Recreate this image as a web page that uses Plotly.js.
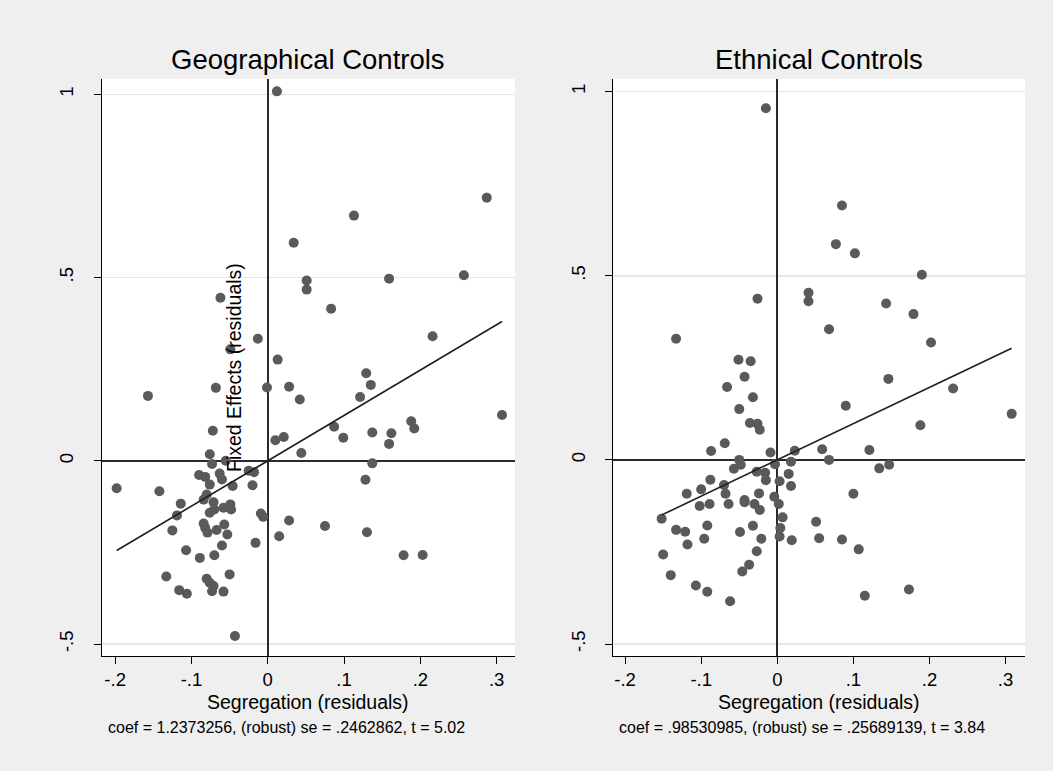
<!DOCTYPE html>
<html>
<head>
<meta charset="utf-8">
<script src="https://cdn.plot.ly/plotly-3.0.1.min.js"></script>
<style>
  html, body { margin: 0; padding: 0; background: #efefef; }
  #chart { width: 1053px; height: 771px; }
</style>
</head>
<body>
<div id="chart"></div>
<script>
// ---------- Data ----------
const panelTitles = ["Geographical Controls", "Ethnical Controls"];
const xTitle = "Segregation (residuals)";
const yTitle = "Fixed Effects (residuals)";
const notes = [
  "coef = 1.2373256, (robust) se = .2462862, t = 5.02",
  "coef = .98530985, (robust) se = .25689139, t = 3.84"
];
const coefGeo = 1.2373256;
const coefEth = 0.98530985;

const xTickVals = [-0.2, -0.1, 0, 0.1, 0.2, 0.3];
const xTickText = ["-.2", "-.1", "0", ".1", ".2", ".3"];
const yTickVals = [-0.5, 0, 0.5, 1];
const yTickText = ["-.5", "0", ".5", "1"];

const geoX = [0.012, 0.287, 0.113, 0.034, 0.051, 0.051, 0.159, 0.257, -0.062, 0.083,
  -0.013, 0.216, -0.049, 0.013, -0.157, -0.068, -0.001, 0.028, 0.042, 0.129,
  0.135, 0.121, 0.307, 0.087, 0.099, 0.137, 0.162, 0.159, 0.188, 0.192,
  -0.072, 0.010, 0.021, 0.044, -0.076, -0.073, -0.055, 0.137, 0.128, -0.090,
  -0.082, -0.063, -0.060, -0.076, -0.046, -0.025, -0.018, -0.020, -0.198, -0.142,
  -0.080, -0.114, -0.084, -0.071, -0.070, -0.076, -0.058, -0.049, -0.048, -0.119,
  -0.009, -0.006, 0.028, -0.125, -0.084, -0.082, -0.079, -0.067, -0.057, -0.053,
  0.015, -0.016, -0.060, -0.107, -0.089, -0.070, -0.133, -0.080, -0.076, -0.071,
  -0.050, -0.116, -0.106, -0.073, -0.058, -0.043, 0.075, 0.130, 0.178, 0.203];
const geoY = [1.008, 0.718, 0.669, 0.595, 0.492, 0.467, 0.497, 0.506, 0.445, 0.415,
  0.333, 0.340, 0.304, 0.276, 0.177, 0.199, 0.200, 0.202, 0.167, 0.239,
  0.207, 0.174, 0.125, 0.093, 0.063, 0.077, 0.075, 0.046, 0.108, 0.088,
  0.082, 0.056, 0.065, 0.021, 0.018, -0.009, 0.000, -0.007, -0.052, -0.039,
  -0.044, -0.035, -0.051, -0.065, -0.069, -0.027, -0.031, -0.067, -0.075, -0.083,
  -0.092, -0.117, -0.106, -0.113, -0.133, -0.142, -0.128, -0.119, -0.133, -0.149,
  -0.144, -0.153, -0.163, -0.190, -0.171, -0.183, -0.196, -0.189, -0.174, -0.201,
  -0.206, -0.224, -0.231, -0.244, -0.265, -0.258, -0.316, -0.322, -0.333, -0.342,
  -0.310, -0.353, -0.363, -0.356, -0.357, -0.478, -0.178, -0.195, -0.258, -0.257];

const ethX = [-0.015, 0.085, 0.077, 0.102, 0.190, -0.026, 0.041, 0.041, 0.143, 0.179,
  0.068, -0.133, 0.202, -0.051, -0.035, -0.043, 0.146, -0.066, 0.231, -0.032,
  0.090, -0.050, 0.308, -0.036, -0.026, -0.023, 0.188, -0.069, -0.087, -0.009,
  0.023, 0.059, 0.121, -0.050, -0.048, -0.057, 0.068, -0.003, 0.018, 0.134,
  0.147, -0.027, -0.016, 0.015, -0.088, -0.070, -0.015, 0.003, 0.018, -0.100,
  -0.119, -0.068, -0.024, -0.004, 0.100, -0.043, 0.002, -0.064, -0.102, -0.089,
  -0.043, -0.030, -0.023, -0.152, 0.007, 0.051, -0.133, -0.121, -0.092, -0.049,
  -0.032, 0.004, 0.003, -0.021, 0.019, -0.096, -0.118, 0.055, -0.027, -0.150,
  -0.037, -0.046, -0.140, -0.107, -0.092, -0.062, 0.085, 0.107, 0.115, 0.173];
const ethY = [0.955, 0.691, 0.586, 0.561, 0.503, 0.438, 0.454, 0.431, 0.425, 0.396,
  0.355, 0.329, 0.319, 0.272, 0.268, 0.226, 0.220, 0.198, 0.194, 0.170,
  0.147, 0.138, 0.125, 0.100, 0.098, 0.082, 0.094, 0.045, 0.024, 0.020,
  0.025, 0.029, 0.027, 0.000, -0.013, -0.024, 0.000, -0.012, -0.005, -0.023,
  -0.013, -0.032, -0.035, -0.038, -0.054, -0.068, -0.055, -0.058, -0.071, -0.080,
  -0.092, -0.092, -0.091, -0.100, -0.092, -0.109, -0.120, -0.120, -0.125, -0.120,
  -0.115, -0.120, -0.136, -0.160, -0.156, -0.168, -0.190, -0.195, -0.178, -0.196,
  -0.179, -0.185, -0.208, -0.214, -0.218, -0.214, -0.230, -0.213, -0.248, -0.257,
  -0.285, -0.303, -0.313, -0.341, -0.358, -0.384, -0.216, -0.243, -0.369, -0.352];

// ---------- Styling ----------
const FONT = "Arial, 'Liberation Sans', Helvetica, sans-serif";
const W = 1053, H = 771;
const markerColor = "#5a5a5a";
const fitColor = "#1f1f1f";

function fitLine(xs, coef) {
  const lo = Math.min(...xs), hi = Math.max(...xs);
  return { x: [lo, hi], y: [coef * lo, coef * hi] };
}
const fitGeo = fitLine(geoX, coefGeo);
const fitEth = fitLine(ethX, coefEth);

const traces = [
  { type: "scatter", mode: "markers", x: geoX, y: geoY, xaxis: "x", yaxis: "y",
    marker: { color: markerColor, size: 10, line: { width: 0 } }, hoverinfo: "skip" },
  { type: "scatter", mode: "lines", x: fitGeo.x, y: fitGeo.y, xaxis: "x", yaxis: "y",
    line: { color: fitColor, width: 1.6 }, hoverinfo: "skip" },
  { type: "scatter", mode: "markers", x: ethX, y: ethY, xaxis: "x2", yaxis: "y2",
    marker: { color: markerColor, size: 10, line: { width: 0 } }, hoverinfo: "skip" },
  { type: "scatter", mode: "lines", x: fitEth.x, y: fitEth.y, xaxis: "x2", yaxis: "y2",
    line: { color: fitColor, width: 1.6 }, hoverinfo: "skip" }
];

function px2fx(p) { return p / W; }
function py2fy(p) { return 1 - p / H; }

const xBase = {
  tickmode: "array", tickvals: xTickVals, ticktext: xTickText,
  ticks: "outside", ticklen: 7, tickwidth: 1, tickcolor: "#000",
  showline: true, linecolor: "#000", linewidth: 1, mirror: false,
  showgrid: false, zeroline: true, zerolinecolor: "#2b2b2b", zerolinewidth: 1.6,
  tickfont: { family: FONT, size: 18.5, color: "#000" }, ticklabelstandoff: 0,
  fixedrange: true
};
const yBase = {
  tickmode: "array", tickvals: yTickVals, ticktext: yTickText,
  ticks: "outside", ticklen: 7, tickwidth: 1, tickcolor: "#000", tickangle: -90,
  showline: true, linecolor: "#000", linewidth: 1, mirror: false,
  showgrid: true, gridcolor: "#e6e6e6", gridwidth: 1.5,
  zeroline: true, zerolinecolor: "#2b2b2b", zerolinewidth: 1.6,
  tickfont: { family: FONT, size: 18.5, color: "#000" }, ticklabelstandoff: 13,
  fixedrange: true
};

const yDom = [py2fy(656), py2fy(79)];

const layout = {
  width: W, height: H,
  margin: { l: 0, r: 0, t: 0, b: 0 },
  paper_bgcolor: "#efefef",
  plot_bgcolor: "#ffffff",
  showlegend: false,
  xaxis: Object.assign({}, xBase, { domain: [px2fx(101.7), px2fx(515)], range: [-0.2176, 0.324], anchor: "y" }),
  yaxis: Object.assign({}, yBase, { domain: yDom, range: [-0.5327, 1.0417], anchor: "x" }),
  xaxis2: Object.assign({}, xBase, { domain: [px2fx(613.3), px2fx(1025)], range: [-0.2155, 0.3255], anchor: "y2" }),
  yaxis2: Object.assign({}, yBase, { domain: yDom, range: [-0.5326, 1.0345], anchor: "x2" }),
  annotations: [
    { text: panelTitles[0], xref: "paper", yref: "paper", x: px2fx(308.4), y: py2fy(60), xanchor: "center", yanchor: "middle",
      showarrow: false, font: { family: FONT, size: 27.5, color: "#000" } },
    { text: panelTitles[1], xref: "paper", yref: "paper", x: px2fx(819.2), y: py2fy(60), xanchor: "center", yanchor: "middle",
      showarrow: false, font: { family: FONT, size: 27.5, color: "#000" } },
    { text: xTitle, xref: "paper", yref: "paper", x: px2fx(308.4), y: py2fy(702), xanchor: "center", yanchor: "middle",
      showarrow: false, font: { family: FONT, size: 19.5, color: "#000" } },
    { text: xTitle, xref: "paper", yref: "paper", x: px2fx(819.2), y: py2fy(702), xanchor: "center", yanchor: "middle",
      showarrow: false, font: { family: FONT, size: 19.5, color: "#000" } },
    { text: notes[0], xref: "paper", yref: "paper", x: px2fx(106), y: py2fy(727), xanchor: "left", yanchor: "middle",
      showarrow: false, font: { family: FONT, size: 16, color: "#000" } },
    { text: notes[1], xref: "paper", yref: "paper", x: px2fx(617), y: py2fy(727), xanchor: "left", yanchor: "middle",
      showarrow: false, font: { family: FONT, size: 16, color: "#000" } },
    { text: yTitle, xref: "paper", yref: "paper", x: px2fx(234), y: py2fy(368), xanchor: "center", yanchor: "middle",
      textangle: -90, showarrow: false, font: { family: FONT, size: 19.5, color: "#000" } }
  ]
};

Plotly.newPlot("chart", traces, layout, { displayModeBar: false, staticPlot: true });
</script>
</body>
</html>
